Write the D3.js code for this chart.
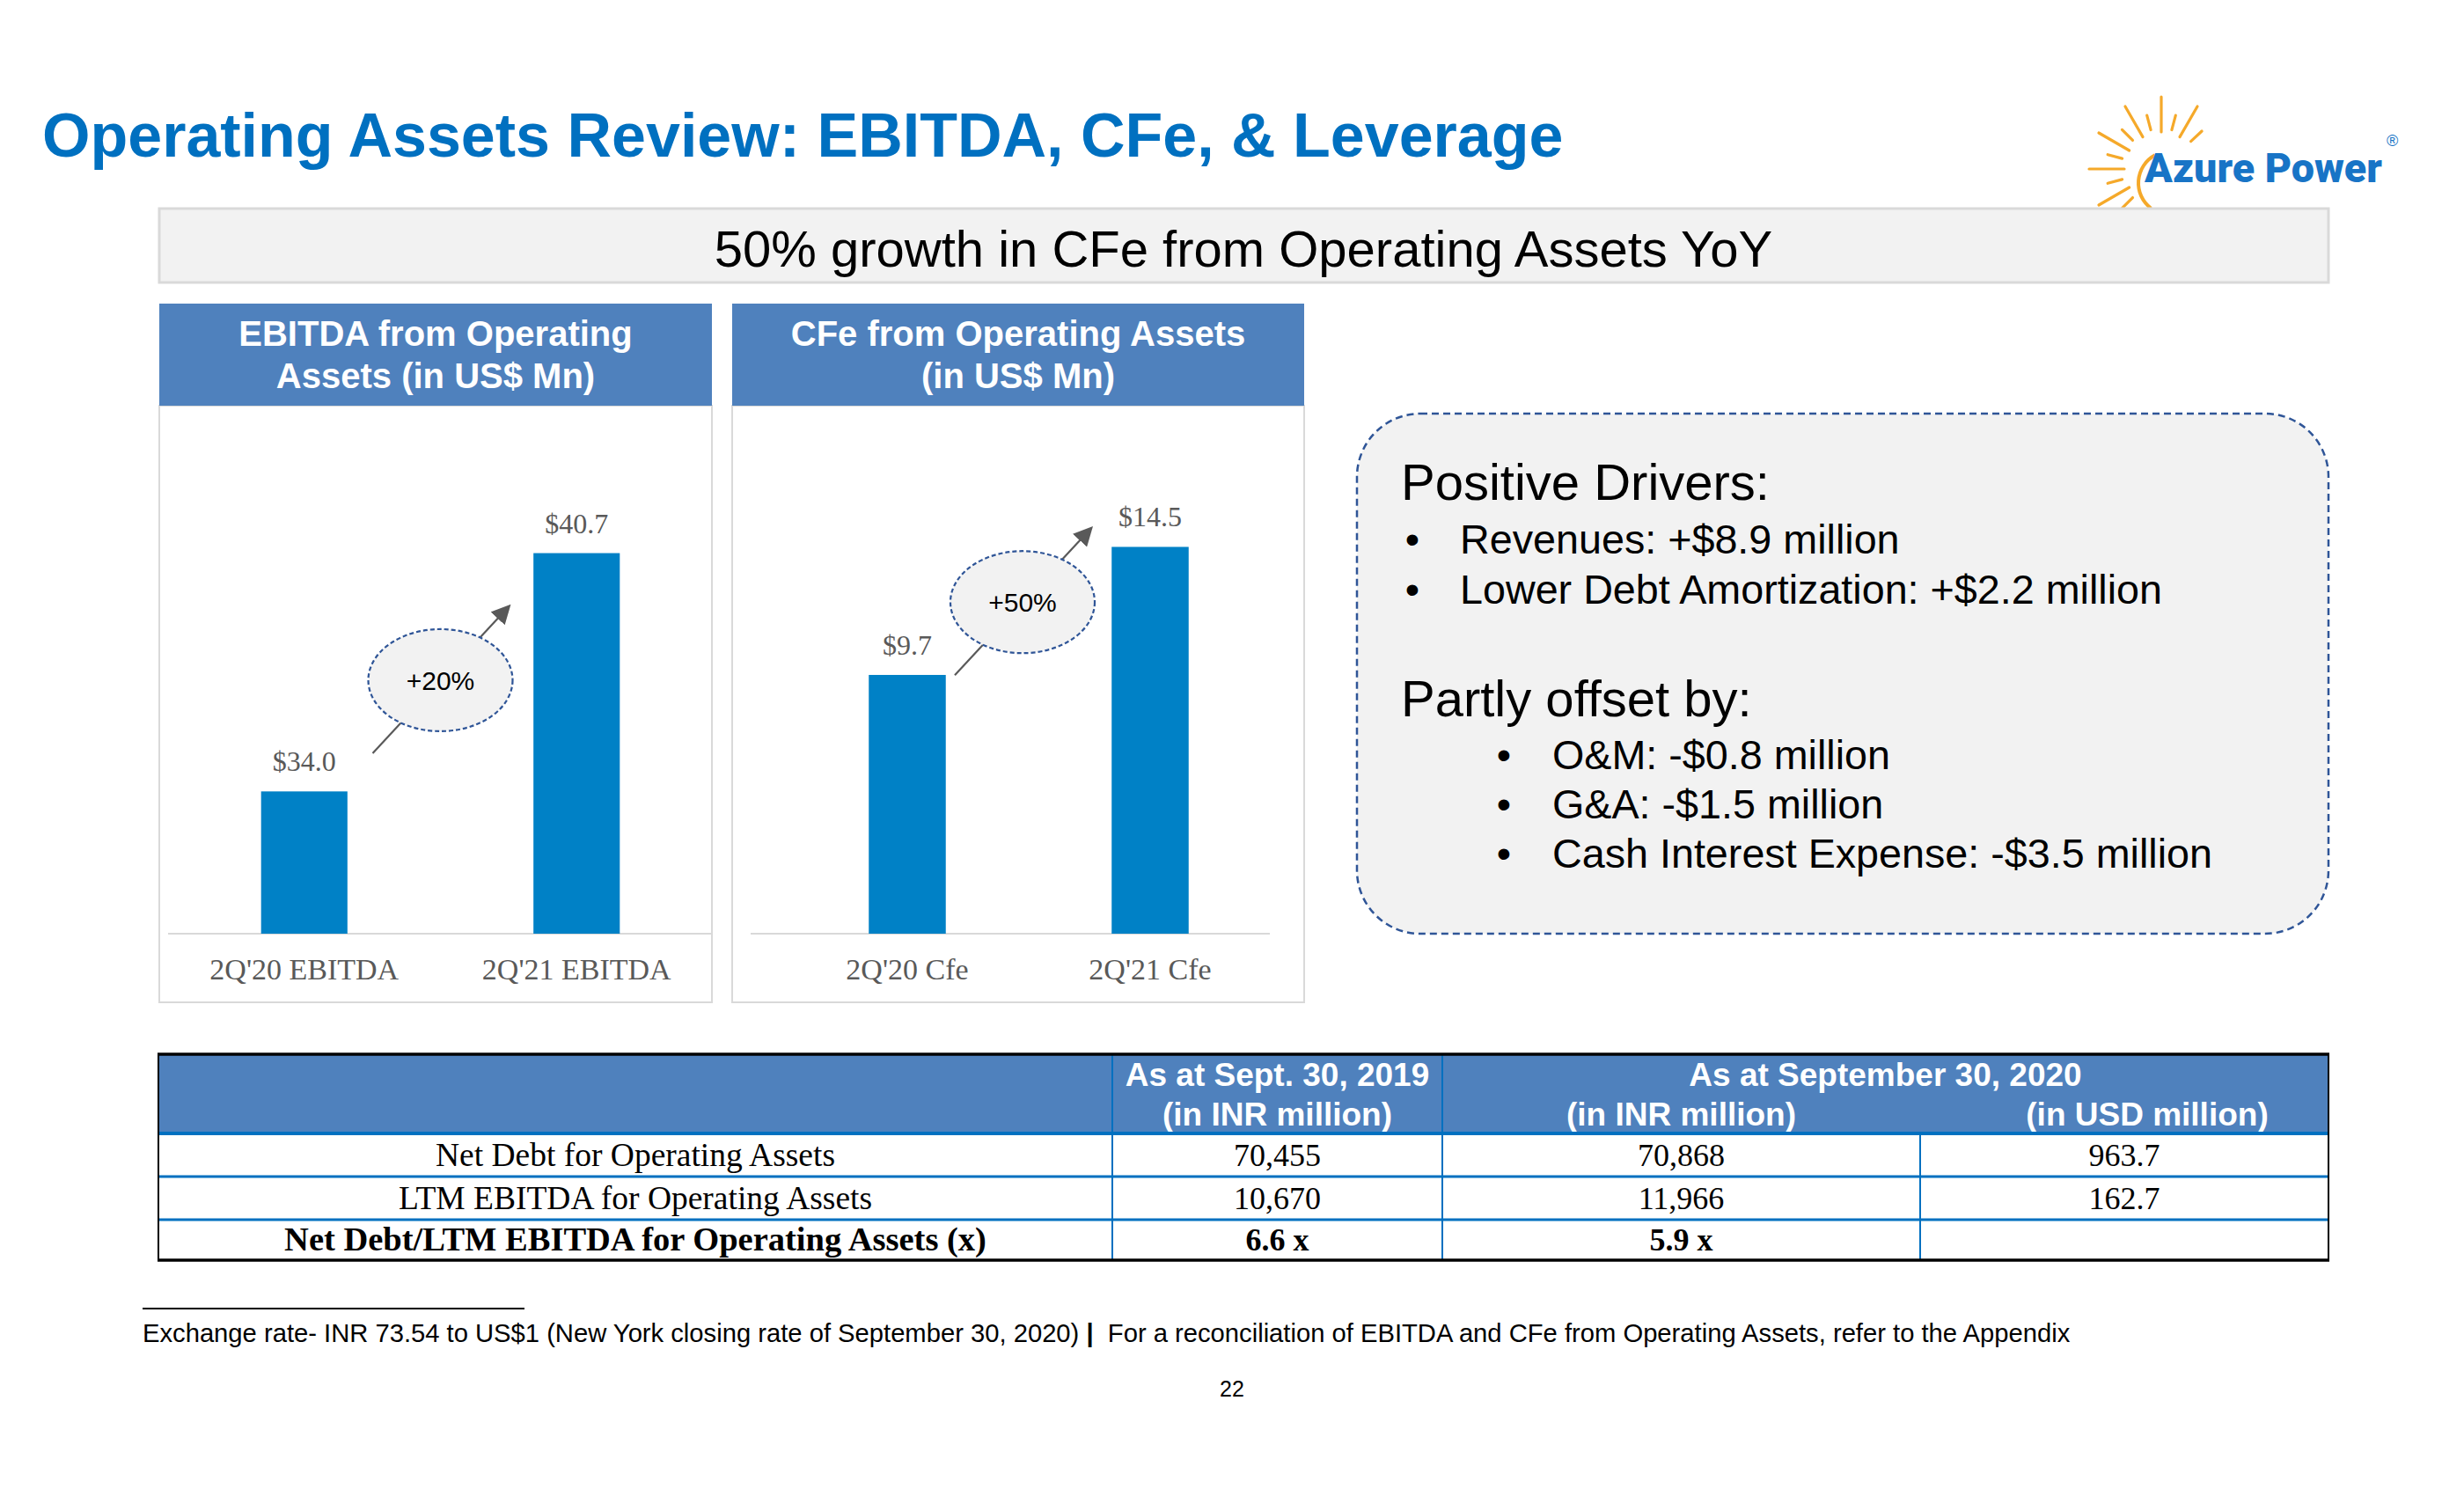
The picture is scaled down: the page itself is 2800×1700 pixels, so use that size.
<!DOCTYPE html>
<html>
<head>
<meta charset="utf-8">
<script src="https://cdn.jsdelivr.net/npm/d3@7"></script>
<style>
  html, body { margin: 0; padding: 0; background: #ffffff; }
  svg { display: block; }
</style>
</head>
<body>
<div id="chart"></div>
<script>
// ---------------- DATA ----------------
const pageTitle = "Operating Assets Review: EBITDA, CFe, & Leverage";
const bannerText = "50% growth in CFe from Operating Assets YoY";

const ebitdaTitle = ["EBITDA from Operating", "Assets (in US$ Mn)"];
const ebitdaCategories = ["2Q'20 EBITDA", "2Q'21 EBITDA"];
const ebitdaValues = [34.0, 40.7];
const ebitdaAxis = [30, 42];
const ebitdaGrowth = "+20%";

const cfeTitle = ["CFe from Operating Assets", "(in US$ Mn)"];
const cfeCategories = ["2Q'20 Cfe", "2Q'21 Cfe"];
const cfeValues = [9.7, 14.5];
const cfeAxis = [0, 16];
const cfeGrowth = "+50%";

const positiveHeading = "Positive Drivers:";
const positiveDrivers = ["Revenues: +$8.9 million", "Lower Debt Amortization: +$2.2 million"];
const offsetHeading = "Partly offset by:";
const offsetDrivers = ["O&M: -$0.8 million", "G&A: -$1.5 million", "Cash Interest Expense: -$3.5 million"];

const tableRowLabels = ["Net Debt for Operating Assets", "LTM EBITDA for Operating Assets", "Net Debt/LTM EBITDA for Operating Assets (x)"];
const inr2019 = ["70,455", "10,670", "6.6 x"];
const inr2020 = ["70,868", "11,966", "5.9 x"];
const usd2020 = ["963.7", "162.7", ""];
const tableHeader2019 = ["As at Sept. 30, 2019", "(in INR million)"];
const tableHeader2020 = "As at September 30, 2020";
const tableSubHeaders2020 = ["(in INR million)", "(in USD million)"];

const footnoteA = "Exchange rate- INR 73.54 to US$1 (New York closing rate of September 30, 2020) ";
const footnoteB = "For a reconciliation of EBITDA and CFe from Operating Assets, refer to the Appendix";
const pageNumber = "22";

// logo rays (angle deg, long?) - decoration
const logoRays = [[-90,1],[-105,0],[-120,1],[-135,0],[-150,1],[-165,0],[180,1],[165,0],[150,1],[135,0],[-75,0],[-60,1],[-43,0]];

// ---------------- DRAW ----------------
const W = 2800, H = 1700;
const SANS = "'Liberation Sans', Arial, sans-serif";
const SERIF = "'Liberation Serif', 'Times New Roman', serif";
const svg = d3.select("#chart").append("svg").attr("width", W).attr("height", H);
svg.append("rect").attr("width", W).attr("height", H).attr("fill", "#ffffff");

const defs = svg.append("defs");
defs.append("marker").attr("id", "arrow").attr("viewBox", "0 0 10 10")
  .attr("refX", 8).attr("refY", 5)
  .attr("orient", "auto").attr("markerUnits", "userSpaceOnUse")
  .attr("markerWidth", 22).attr("markerHeight", 22)
  .append("path").attr("d", "M0,0 L10,5 L0,10 Z").attr("fill", "#595959");

// Title
svg.append("text").attr("x", 48).attr("y", 178)
  .attr("font-family", SANS).attr("font-weight", "bold").attr("font-size", 70)
  .attr("fill", "#0070C0").text(pageTitle);

// Logo
const logo = svg.append("g");
const lc = [2456, 192];
logoRays.forEach(([a, long]) => {
  const r0 = long ? 42 : 46, r1 = long ? 82 : 63;
  const t = a * Math.PI / 180;
  logo.append("line")
    .attr("x1", lc[0] + r0 * Math.cos(t)).attr("y1", lc[1] + r0 * Math.sin(t))
    .attr("x2", lc[0] + r1 * Math.cos(t)).attr("y2", lc[1] + r1 * Math.sin(t))
    .attr("stroke", "#F5A92A").attr("stroke-width", 3.2).attr("stroke-linecap", "round");
});
logo.append("path")
  .attr("d", d3.arc()({innerRadius: 34, outerRadius: 38, startAngle: -1.45, endAngle: 0.55}))
  .attr("transform", "translate(2466,208) rotate(-60)").attr("fill", "#F5A92A");
const logoText = logo.append("text").attr("x", 2437).attr("y", 207)
  .attr("font-family", "Roboto, 'DejaVu Sans', sans-serif").attr("font-weight", 900).attr("font-size", 52)
  .attr("fill", "#1874C6").text("Azure Power");
const natW = logoText.node().getComputedTextLength();
const logoFs = 52 * 270 / natW;
logoText.attr("font-size", logoFs);
const logoEnd = 2437 + logoText.node().getComputedTextLength();
logo.append("text").attr("x", logoEnd + 5).attr("y", 166)
  .attr("font-family", SANS).attr("font-size", 18).attr("fill", "#1874C6").text("®");

// Banner
svg.append("rect").attr("x", 181).attr("y", 237).attr("width", 2465).attr("height", 84)
  .attr("fill", "#F2F2F2").attr("stroke", "#D9D9D9").attr("stroke-width", 3);
svg.append("text").attr("x", 1413).attr("y", 303).attr("text-anchor", "middle")
  .attr("font-family", SANS).attr("font-size", 58).attr("fill", "#000").text(bannerText);

// ---- Bar panels ----
function panel(opts) {
  const g = svg.append("g");
  const {x0, x1, titleLines, cats, vals, domain, range, growth} = opts;
  const top = 345, headBottom = 461, bottom = 1139, base = 1061, plotTop = 576;
  g.append("rect").attr("x", x0).attr("y", headBottom).attr("width", x1 - x0).attr("height", bottom - headBottom)
    .attr("fill", "#fff").attr("stroke", "#D9D9D9").attr("stroke-width", 2);
  g.append("rect").attr("x", x0).attr("y", top).attr("width", x1 - x0).attr("height", headBottom - top)
    .attr("fill", "#4F81BD");
  const cx = (x0 + x1) / 2;
  titleLines.forEach((t, i) => {
    g.append("text").attr("x", cx).attr("y", 393 + i * 48).attr("text-anchor", "middle")
      .attr("font-family", SANS).attr("font-weight", "bold").attr("font-size", 40).attr("fill", "#fff").text(t);
  });
  const x = d3.scaleBand().domain(cats).range(range).paddingInner(0.683).paddingOuter(0.3415);
  const y = d3.scaleLinear().domain(domain).range([base, plotTop]);
  g.append("line").attr("x1", opts.baseX0).attr("x2", opts.baseX1).attr("y1", base).attr("y2", base)
    .attr("stroke", "#D9D9D9").attr("stroke-width", 2);
  g.selectAll("rect.bar").data(vals).join("rect").attr("class", "bar")
    .attr("x", (d, i) => x(cats[i])).attr("width", x.bandwidth())
    .attr("y", d => y(d)).attr("height", d => base - y(d)).attr("fill", "#0081C6");
  const fmt = d3.format("$.1f");
  g.selectAll("text.val").data(vals).join("text").attr("class", "val")
    .attr("x", (d, i) => x(cats[i]) + x.bandwidth() / 2).attr("y", d => y(d) - 23)
    .attr("text-anchor", "middle").attr("font-family", SERIF).attr("font-size", 32).attr("fill", "#595959")
    .text(d => fmt(d));
  g.selectAll("text.cat").data(cats).join("text").attr("class", "cat")
    .attr("x", d => x(d) + x.bandwidth() / 2).attr("y", 1113)
    .attr("text-anchor", "middle").attr("font-family", SERIF).attr("font-size", 34).attr("fill", "#595959")
    .text(d => d);
  // growth annotation
  const c1 = x(cats[0]) + x.bandwidth() / 2, c2 = x(cats[1]) + x.bandwidth() / 2;
  const ex = (c1 + c2) / 2 + opts.ellDx, ey = (y(vals[0]) + y(vals[1])) / 2 + opts.ellDy;
  const dx = 77, dy = -83;
  g.append("line").attr("x1", ex - dx).attr("y1", ey - dy).attr("x2", ex + dx).attr("y2", ey + dy)
    .attr("stroke", "#595959").attr("stroke-width", 2.2).attr("marker-end", "url(#arrow)");
  g.append("ellipse").attr("cx", ex).attr("cy", ey).attr("rx", 82).attr("ry", 58)
    .attr("fill", "#F2F2F2").attr("stroke", "#2F5597").attr("stroke-width", 2.2).attr("stroke-dasharray", "5,3");
  g.append("text").attr("x", ex).attr("y", ey + 11).attr("text-anchor", "middle")
    .attr("font-family", SANS).attr("font-size", 30).attr("fill", "#000").text(growth);
}
panel({x0: 181, x1: 809, titleLines: ebitdaTitle, cats: ebitdaCategories, vals: ebitdaValues,
  domain: ebitdaAxis, range: [191, 810], growth: ebitdaGrowth, baseX0: 191, baseX1: 809, ellDx: 0, ellDy: 9});
panel({x0: 832, x1: 1482, titleLines: cfeTitle, cats: cfeCategories, vals: cfeValues,
  domain: cfeAxis, range: [893, 1445], growth: cfeGrowth, baseX0: 853, baseX1: 1443, ellDx: -7, ellDy: -10});

// ---- Drivers box ----
svg.append("rect").attr("x", 1542).attr("y", 470).attr("width", 1104).attr("height", 591)
  .attr("rx", 72).attr("ry", 72).attr("fill", "#F2F2F2")
  .attr("stroke", "#2F5597").attr("stroke-width", 2.5).attr("stroke-dasharray", "8,5");
svg.append("text").attr("x", 1592).attr("y", 568).attr("font-family", SANS).attr("font-size", 58)
  .attr("fill", "#000").text(positiveHeading);
positiveDrivers.forEach((t, i) => {
  const yy = 629 + i * 57;
  svg.append("text").attr("x", 1605).attr("y", yy).attr("text-anchor", "middle").attr("font-family", SANS)
    .attr("font-size", 46.7).text("•");
  svg.append("text").attr("x", 1659).attr("y", yy).attr("font-family", SANS).attr("font-size", 46.7).text(t);
});
svg.append("text").attr("x", 1592).attr("y", 814).attr("font-family", SANS).attr("font-size", 58)
  .attr("fill", "#000").text(offsetHeading);
offsetDrivers.forEach((t, i) => {
  const yy = 874 + i * 56;
  svg.append("text").attr("x", 1709).attr("y", yy).attr("text-anchor", "middle").attr("font-family", SANS)
    .attr("font-size", 46.7).text("•");
  svg.append("text").attr("x", 1764).attr("y", yy).attr("font-family", SANS).attr("font-size", 46.7).text(t);
});

// ---- Table ----
const tx = [180, 1264, 1639, 2182, 2646];
const ty = [1198, 1288, 1337, 1386, 1432];
const tg = svg.append("g");
tg.append("rect").attr("x", tx[0]).attr("y", ty[0]).attr("width", tx[4] - tx[0]).attr("height", ty[1] - ty[0])
  .attr("fill", "#4F81BD");
function headText(xx, yy, t) {
  tg.append("text").attr("x", xx).attr("y", yy).attr("text-anchor", "middle")
    .attr("font-family", SANS).attr("font-weight", "bold").attr("font-size", 37).attr("fill", "#fff").text(t);
}
headText((tx[1] + tx[2]) / 2, 1234, tableHeader2019[0]);
headText((tx[1] + tx[2]) / 2, 1279, tableHeader2019[1]);
headText((tx[2] + tx[4]) / 2, 1234, tableHeader2020);
headText((tx[2] + tx[3]) / 2, 1279, tableSubHeaders2020[0]);
headText((tx[3] + tx[4]) / 2 + 26, 1279, tableSubHeaders2020[1]);
// rows
tableRowLabels.forEach((lab, i) => {
  const yy = (ty[i + 1] + ty[i + 2]) / 2 + 12;
  const bold = i === 2 ? "bold" : "normal";
  const cells = [lab, inr2019[i], inr2020[i], usd2020[i]];
  cells.forEach((c, j) => {
    const fs = j === 0 ? (i === 2 ? 38.5 : 37.5) : 36;
    tg.append("text").attr("x", (tx[j] + tx[j + 1]) / 2).attr("y", yy).attr("text-anchor", "middle")
      .attr("font-family", SERIF).attr("font-weight", bold).attr("font-size", fs).attr("fill", "#000").text(c);
  });
});
// grid lines
[1, 2].forEach(j => {
  tg.append("line").attr("x1", tx[j]).attr("x2", tx[j]).attr("y1", ty[0]).attr("y2", ty[4])
    .attr("stroke", "#0070C0").attr("stroke-width", 2);
});
tg.append("line").attr("x1", tx[3]).attr("x2", tx[3]).attr("y1", ty[1]).attr("y2", ty[4])
  .attr("stroke", "#0070C0").attr("stroke-width", 2);
[[ty[1], 4], [ty[2], 3], [ty[3], 3]].forEach(([yy, w]) => {
  tg.append("line").attr("x1", tx[0]).attr("x2", tx[4]).attr("y1", yy).attr("y2", yy)
    .attr("stroke", "#0070C0").attr("stroke-width", w);
});
[tx[0], tx[4]].forEach(xx => {
  tg.append("line").attr("x1", xx).attr("x2", xx).attr("y1", ty[0]).attr("y2", ty[4])
    .attr("stroke", "#000").attr("stroke-width", 2);
});
[ty[0], ty[4]].forEach(yy => {
  tg.append("line").attr("x1", tx[0] - 1).attr("x2", tx[4] + 1).attr("y1", yy).attr("y2", yy)
    .attr("stroke", "#000").attr("stroke-width", 3.5);
});

// ---- Footnote ----
svg.append("line").attr("x1", 162).attr("x2", 596).attr("y1", 1487).attr("y2", 1487)
  .attr("stroke", "#000").attr("stroke-width", 1.8);
const fn = svg.append("text").attr("x", 162).attr("y", 1525).attr("font-family", SANS).attr("font-size", 29.2).attr("fill", "#000");
fn.append("tspan").text(footnoteA);
fn.append("tspan").attr("font-weight", "bold").text("|");
fn.append("tspan").attr("xml:space", "preserve").text("  " + footnoteB);
svg.append("text").attr("x", 1400).attr("y", 1587).attr("text-anchor", "middle")
  .attr("font-family", SANS).attr("font-size", 25).attr("fill", "#000").text(pageNumber);
</script>
</body>
</html>
